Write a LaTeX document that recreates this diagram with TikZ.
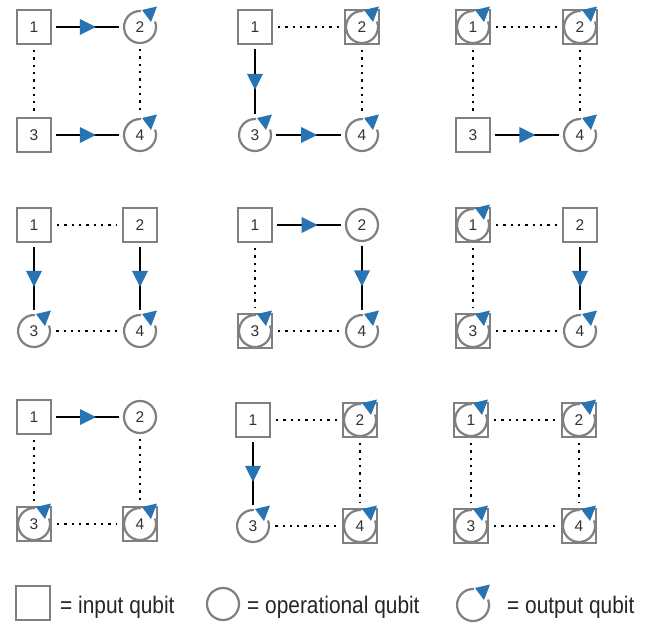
\documentclass[tikz,border=0pt]{standalone}
\usepackage{fontspec}
\setmainfont{Liberation Sans}
\newfontfamily\legfont[FakeStretch=0.87]{Liberation Sans}
\usetikzlibrary{decorations.markings}
\definecolor{qgray}{RGB}{128,128,128}
\definecolor{qblue}{RGB}{40,115,178}
\newcommand\numfont{\fontsize{15.5}{15.5}\selectfont}
\newcommand\legtext{\legfont\fontsize{24}{24}\selectfont}
\tikzset{
  qline/.style={draw=qgray, line width=2.2pt},
  inbox/.style={rectangle, qline, minimum size=34pt, inner sep=0pt, font=\numfont, text=black!80},
  opcirc/.style={circle, qline, minimum size=32pt, inner sep=0pt, font=\numfont, text=black!80},
  outcirc/.style={circle, minimum size=34pt, inner sep=0pt, font=\numfont, text=black!80},
  flow/.style={draw=black, line width=2pt, shorten <=3.5pt, shorten >=3.5pt,
    postaction=decorate, decoration={markings, mark=at position 0.5 with
      {\fill[qblue] (-7.5pt,-8pt) -- (8.5pt,0pt) -- (-7.5pt,8pt) -- cycle;}}},
  link/.style={draw=black, line width=2.3pt, dash pattern=on 2.3pt off 5pt, shorten <=5pt, shorten >=5pt},
  outmark/.pic={
    \draw[qline] (20:16pt) arc[start angle=20, end angle=-273, radius=16pt];
    \fill[qblue] (2pt,17pt) -- (11pt,5pt) -- (17pt,20.5pt) -- cycle;
  },
  legtxt/.style={anchor=base west, inner sep=0pt, font=\legtext, text=black!85}
}
% node helpers: name, position, label
\newcommand\qin[3]{\node[inbox] (#1) at (#2) {#3};}
\newcommand\qop[3]{\node[opcirc] (#1) at (#2) {#3};}
\newcommand\qout[3]{\node[outcirc] (#1) at (#2) {#3}; \pic at (#2) {outmark};}
\newcommand\qio[3]{\node[inbox] (#1) at (#2) {#3}; \pic at (#2) {outmark};}
\begin{document}
\begin{tikzpicture}[x=1pt,y=1pt]
\useasboundingbox (0,0) rectangle (660,-623);
\fill[white] (0,0) rectangle (660,-623);

% ---- row 1, col 1
\begin{scope}[shift={(34,-27)}]
\qin{a1}{0,0}{1} \qout{a2}{106,0}{2} \qin{a3}{0,-108}{3} \qout{a4}{106,-108}{4}
\draw[flow] (a1) -- (a2); \draw[flow] (a3) -- (a4);
\draw[link] (a1) -- (a3); \draw[link] (a2) -- (a4);
\end{scope}
% ---- row 1, col 2
\begin{scope}[shift={(255,-27)}]
\qin{b1}{0,0}{1} \qio{b2}{107,0}{2} \qout{b3}{0,-108}{3} \qout{b4}{107,-108}{4}
\draw[flow] (b1) -- (b3); \draw[flow] (b3) -- (b4);
\draw[link] (b1) -- (b2); \draw[link] (b2) -- (b4);
\end{scope}
% ---- row 1, col 3
\begin{scope}[shift={(473,-27)}]
\qio{c1}{0,0}{1} \qio{c2}{107,0}{2} \qin{c3}{0,-108}{3} \qout{c4}{107,-108}{4}
\draw[flow] (c3) -- (c4);
\draw[link] (c1) -- (c2); \draw[link] (c1) -- (c3); \draw[link] (c2) -- (c4);
\end{scope}

% ---- row 2, col 1
\begin{scope}[shift={(34,-225)}]
\qin{d1}{0,0}{1} \qin{d2}{106,0}{2} \qout{d3}{0,-106}{3} \qout{d4}{106,-106}{4}
\draw[flow] (d1) -- (d3); \draw[flow] (d2) -- (d4);
\draw[link] (d1) -- (d2); \draw[link] (d3) -- (d4);
\end{scope}
% ---- row 2, col 2
\begin{scope}[shift={(255,-225)}]
\qin{e1}{0,0}{1} \qop{e2}{107,0}{2} \qio{e3}{0,-106}{3} \qout{e4}{107,-106}{4}
\draw[flow] (e1) -- (e2); \draw[flow] (e2) -- (e4);
\draw[link] (e1) -- (e3); \draw[link] (e3) -- (e4);
\end{scope}
% ---- row 2, col 3
\begin{scope}[shift={(473,-225)}]
\qio{f1}{0,0}{1} \qin{f2}{107,0}{2} \qio{f3}{0,-106}{3} \qout{f4}{107,-106}{4}
\draw[flow] (f2) -- (f4);
\draw[link] (f1) -- (f2); \draw[link] (f1) -- (f3); \draw[link] (f3) -- (f4);
\end{scope}

% ---- row 3, col 1
\begin{scope}[shift={(34,-417)}]
\qin{g1}{0,0}{1} \qop{g2}{106,0}{2} \qio{g3}{0,-107}{3} \qio{g4}{106,-107}{4}
\draw[flow] (g1) -- (g2);
\draw[link] (g1) -- (g3); \draw[link] (g2) -- (g4); \draw[link] (g3) -- (g4);
\end{scope}
% ---- row 3, col 2
\begin{scope}[shift={(253,-420)}]
\qin{h1}{0,0}{1} \qio{h2}{107,0}{2} \qout{h3}{0,-106}{3} \qio{h4}{107,-106}{4}
\draw[flow] (h1) -- (h3);
\draw[link] (h1) -- (h2); \draw[link] (h2) -- (h4); \draw[link] (h3) -- (h4);
\end{scope}
% ---- row 3, col 3
\begin{scope}[shift={(471,-420)}]
\qio{k1}{0,0}{1} \qio{k2}{108,0}{2} \qio{k3}{0,-106}{3} \qio{k4}{108,-106}{4}
\draw[link] (k1) -- (k2); \draw[link] (k1) -- (k3); \draw[link] (k2) -- (k4); \draw[link] (k3) -- (k4);
\end{scope}

% ---- legend
\node[inbox] (lin) at (33,-603) {};
\node[legtxt] (tin) at (60,-613) {= input qubit};
\node[opcirc] (lop) at (223,-604) {};
\node[legtxt] (top) at (247,-613) {= operational qubit};
\node[outcirc] (lout) at (473,-605) {};
\pic at (473,-605) {outmark};
\node[legtxt] (tout) at (507,-613) {= output qubit};
\end{tikzpicture}
\end{document}
